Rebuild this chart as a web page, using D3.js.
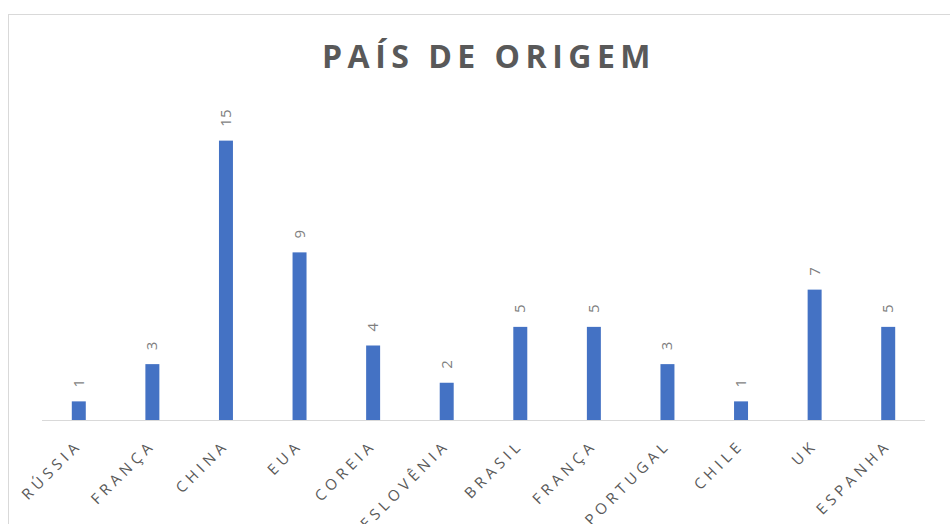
<!DOCTYPE html>
<html lang="pt">
<head>
<meta charset="UTF-8">
<title>País de origem</title>
<script src="https://d3js.org/d3.v7.min.js"></script>
<style>
    body { margin: 0; background: #fff; }
    svg { display: block; font-family: "Open Sans", "Noto Sans", sans-serif; }
</style>
</head>
<body>
<svg id="chart" width="950" height="524"></svg>
<script>
// data
var paises = ["RÚSSIA", "FRANÇA", "CHINA", "EUA", "COREIA", "ESLOVÊNIA", "BRASIL", "FRANÇA", "PORTUGAL", "CHILE", "UK", "ESPANHA"];
var valores = [1, 3, 15, 9, 4, 2, 5, 5, 3, 1, 7, 5];

var svg = d3.select("#chart"),
    width = +svg.attr("width"),
    height = +svg.attr("height");

var plot = { left: 42, right: 925, top: 122, bottom: 420 };

// chart border (runs off the right and bottom of the window)
svg.append("rect")
    .attr("x", 8.5).attr("y", 14.5)
    .attr("width", 960).attr("height", 540)
    .attr("fill", "#fff")
    .attr("stroke", "#d9d9d9");

svg.append("text")
    .attr("x", 489).attr("y", 68)
    .attr("text-anchor", "middle")
    .attr("font-size", 32)
    .attr("font-weight", "bold")
    .attr("letter-spacing", 5.5)
    .attr("fill", "#595959")
    .text("PAÍS DE ORIGEM");

var x = d3.scaleBand()
    .domain(d3.range(paises.length))
    .range([plot.left, plot.right])
    .paddingInner(0.81)
    .paddingOuter(0.405);

var y = d3.scaleLinear()
    .domain([0, 16])
    .range([plot.bottom, plot.top]);

var g = svg.append("g");

g.selectAll(".bar")
    .data(valores)
    .enter().append("rect")
    .attr("class", "bar")
    .attr("x", function (d, i) { return x(i); })
    .attr("y", function (d) { return y(d); })
    .attr("width", x.bandwidth())
    .attr("height", function (d) { return y(0) - y(d); })
    .attr("fill", "#4472c4");

// value labels, rotated
g.selectAll(".valor")
    .data(valores)
    .enter().append("text")
    .attr("class", "valor")
    .attr("transform", function (d, i) {
        return "translate(" + (x(i) + x.bandwidth() / 2 + 5) + "," + (y(d) - 14) + ") rotate(-90)";
    })
    .attr("font-size", 15)
    .attr("fill", "#7f7f7f")
    .text(function (d) { return d; });

// baseline
svg.append("line")
    .attr("x1", plot.left).attr("x2", plot.right)
    .attr("y1", plot.bottom + 0.5).attr("y2", plot.bottom + 0.5)
    .attr("stroke", "#d9d9d9");

// category labels at -45deg
g.selectAll(".pais")
    .data(paises)
    .enter().append("text")
    .attr("class", "pais")
    .attr("transform", function (d, i) {
        return "translate(" + (x(i) + x.bandwidth() / 2 + 4) + "," + (plot.bottom + 26) + ") rotate(-45)";
    })
    .attr("text-anchor", "end")
    .attr("font-size", 15)
    .attr("letter-spacing", 4.5)
    .attr("fill", "#595959")
    .text(function (d) { return d; });
</script>
</body>
</html>
